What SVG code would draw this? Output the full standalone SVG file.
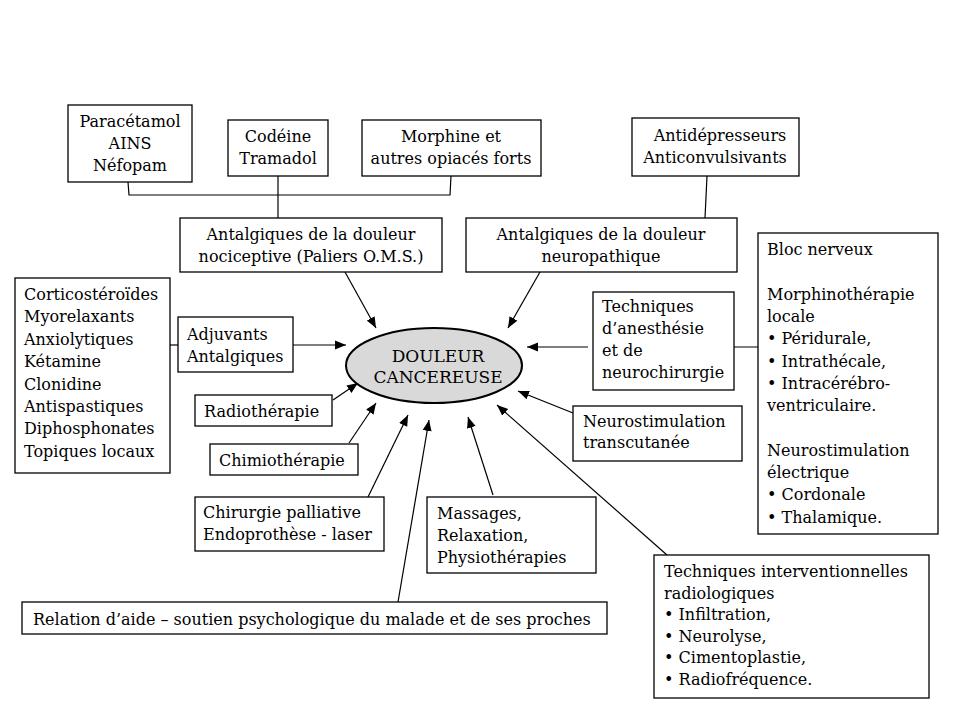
<svg xmlns="http://www.w3.org/2000/svg" width="960" height="720" viewBox="0 0 960 720">
<defs>
<marker id="arr" markerUnits="userSpaceOnUse" markerWidth="12" markerHeight="10" refX="11" refY="5" orient="auto">
<path d="M0,0.5 L11,5 L0,9.5 Z" fill="#000"/>
</marker>
<style>
.box{fill:#fff;stroke:#000;stroke-width:1.3}
.t{font-family:"DejaVu Serif","Liberation Serif",serif;font-size:16px;fill:#000}
.c{text-anchor:middle}
.ln{fill:none;stroke:#000;stroke-width:1.2}
.ar{fill:none;stroke:#000;stroke-width:1.2;marker-end:url(#arr)}
</style>
</defs>
<rect width="960" height="720" fill="#fff"/>

<g id="connectors">
<path class="ln" d="M128,182 L129,195 L450,195 L451,176"/>
<path class="ln" d="M278,176 L278,218"/>
<path class="ln" d="M707,176 L705,218"/>
<path class="ln" d="M158,345 L178,345"/>
<path class="ln" d="M708,347 L758,347"/>
<path class="ar" d="M345,272 L376,328"/>
<path class="ar" d="M540,272 L508,328"/>
<path class="ar" d="M293,345 L346,345"/>
<path class="ar" d="M588,347 L527,347"/>
<path class="ar" d="M333,400 L358,383"/>
<path class="ar" d="M349,443 L376,403"/>
<path class="ar" d="M368,497 L408,415"/>
<path class="ar" d="M398,602 L429,420"/>
<path class="ar" d="M493,495 L468,417"/>
<path class="ar" d="M667,555 L497,405"/>
<path class="ar" d="M573,413 L518,391"/>
</g>

<g id="paracetamol">
<rect class="box" x="68" y="105" width="124" height="77"/>
<text class="t c"><tspan x="130" y="127">Paracétamol</tspan><tspan x="130" y="149">AINS</tspan><tspan x="130" y="171">Néfopam</tspan></text>
</g>
<g id="codeine">
<rect class="box" x="228" y="120" width="100" height="56"/>
<text class="t c"><tspan x="278" y="142">Codéine</tspan><tspan x="278" y="164">Tramadol</tspan></text>
</g>
<g id="morphine">
<rect class="box" x="362" y="120" width="179" height="56"/>
<text class="t c"><tspan x="451" y="142">Morphine et</tspan><tspan x="451" y="164">autres opiacés forts</tspan></text>
</g>
<g id="antidepresseurs">
<rect class="box" x="632" y="118" width="167" height="58"/>
<text class="t c"><tspan x="720" y="141">Antidépresseurs</tspan><tspan x="715" y="163">Anticonvulsivants</tspan></text>
</g>
<g id="nociceptive">
<rect class="box" x="180" y="218" width="262" height="54"/>
<text class="t c"><tspan x="311" y="240">Antalgiques de la douleur</tspan><tspan x="311" y="262">nociceptive (Paliers O.M.S.)</tspan></text>
</g>
<g id="neuropathique">
<rect class="box" x="466" y="218" width="271" height="54"/>
<text class="t c"><tspan x="601" y="240">Antalgiques de la douleur</tspan><tspan x="601" y="262">neuropathique</tspan></text>
</g>
<g id="bloc">
<rect class="box" x="758" y="233" width="180" height="301"/>
<text class="t"><tspan x="767" y="255">Bloc nerveux</tspan><tspan x="767" y="299.6">Morphinothérapie</tspan><tspan x="767" y="321.9">locale</tspan><tspan x="767" y="344.2">• Péridurale,</tspan><tspan x="767" y="366.5">• Intrathécale,</tspan><tspan x="767" y="388.8">• Intracérébro-</tspan><tspan x="767" y="411.1">ventriculaire.</tspan><tspan x="767" y="455.7">Neurostimulation</tspan><tspan x="767" y="478">électrique</tspan><tspan x="767" y="500.3">• Cordonale</tspan><tspan x="767" y="522.6">• Thalamique.</tspan></text>
</g>
<g id="corticosteroides">
<rect class="box" x="15" y="278" width="155" height="195"/>
<text class="t"><tspan x="24" y="300">Corticostéroïdes</tspan><tspan x="24" y="322.4">Myorelaxants</tspan><tspan x="24" y="344.8">Anxiolytiques</tspan><tspan x="24" y="367.2">Kétamine</tspan><tspan x="24" y="389.6">Clonidine</tspan><tspan x="24" y="412">Antispastiques</tspan><tspan x="24" y="434.4">Diphosphonates</tspan><tspan x="24" y="456.8">Topiques locaux</tspan></text>
</g>
<g id="adjuvants">
<rect class="box" x="178" y="317" width="115" height="55"/>
<text class="t"><tspan x="187" y="340">Adjuvants</tspan><tspan x="187" y="362">Antalgiques</tspan></text>
</g>
<g id="anesthesie">
<rect class="box" x="593" y="292" width="141" height="98"/>
<text class="t"><tspan x="602" y="312">Techniques</tspan><tspan x="602" y="334">d’anesthésie</tspan><tspan x="602" y="356">et de</tspan><tspan x="602" y="378">neurochirurgie</tspan></text>
</g>
<g id="douleur">
<ellipse cx="434" cy="365.5" rx="88" ry="37.5" fill="#d9d9d9" stroke="#000" stroke-width="2"/>
<text class="t c" style="font-size:17px"><tspan x="438" y="362">DOULEUR</tspan><tspan x="438" y="383">CANCEREUSE</tspan></text>
</g>
<g id="radiotherapie">
<rect class="box" x="195" y="395" width="137" height="31"/>
<text class="t" x="204" y="417">Radiothérapie</text>
</g>
<g id="chimiotherapie">
<rect class="box" x="210" y="444" width="148" height="31"/>
<text class="t" x="219" y="466">Chimiothérapie</text>
</g>
<g id="neurostimulation">
<rect class="box" x="573" y="406" width="169" height="55"/>
<text class="t"><tspan x="583" y="427">Neurostimulation</tspan><tspan x="583" y="448">transcutanée</tspan></text>
</g>
<g id="chirurgie">
<rect class="box" x="195" y="497" width="189" height="54"/>
<text class="t"><tspan x="203" y="518">Chirurgie palliative</tspan><tspan x="203" y="540">Endoprothèse - laser</tspan></text>
</g>
<g id="massages">
<rect class="box" x="427" y="497" width="169" height="76"/>
<text class="t"><tspan x="437" y="519">Massages,</tspan><tspan x="437" y="541">Relaxation,</tspan><tspan x="437" y="563">Physiothérapies</tspan></text>
</g>
<g id="relation">
<rect class="box" x="22" y="602" width="585" height="32"/>
<text class="t" x="33" y="625">Relation d’aide  – soutien psychologique du malade et de ses proches</text>
</g>
<g id="interventionnelles">
<rect class="box" x="654" y="555" width="275" height="143"/>
<text class="t"><tspan x="664" y="577">Techniques interventionnelles</tspan><tspan x="664" y="598.5">radiologiques</tspan><tspan x="664" y="620">• Infiltration,</tspan><tspan x="664" y="641.5">• Neurolyse,</tspan><tspan x="664" y="663">• Cimentoplastie,</tspan><tspan x="664" y="684.5">• Radiofréquence.</tspan></text>
</g>
</svg>
